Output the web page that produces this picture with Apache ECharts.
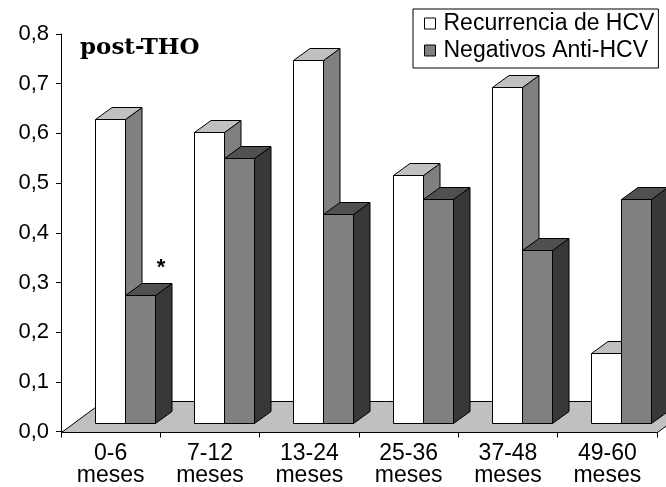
<!DOCTYPE html>
<html>
<head>
<meta charset="utf-8">
<script src="https://cdn.jsdelivr.net/npm/echarts@6/dist/echarts.min.js"></script>
<style>
html,body{margin:0;padding:0;background:#fff;}
#chart{width:666px;height:487px;}
</style>
</head>
<body>
<div id="chart"></div>
<script>
// ---- data ----
const categories = ['0-6\nmeses', '7-12\nmeses', '13-24\nmeses', '25-36\nmeses', '37-48\nmeses', '49-60\nmeses'];
const seriesNames = ['Recurrencia de HCV', 'Negativos Anti-HCV'];
const recurrencia = [0.611, 0.584, 0.730, 0.498, 0.676, 0.140];
const negativos = [0.256, 0.533, 0.420, 0.450, 0.348, 0.450];
const marks = ['*', '', '', '', '', ''];
const yTickLabels = ['0,0', '0,1', '0,2', '0,3', '0,4', '0,5', '0,6', '0,7', '0,8'];
const titleText = 'post-THO';

// ---- style constants ----
const FONT = 'Liberation Sans, Arial, sans-serif';
const SET_X = 12, SET_Y = 9;      // bars set back from front floor edge
const DEP_X = 16.5, DEP_Y = 12;   // bar depth
const FLOOR_X = 42, FLOOR_Y = 31; // floor depth
const faces = [
  { front: '#ffffff', top: '#c0c0c0', side: '#808080' },
  { front: '#808080', top: '#505050', side: '#383838' }
];

function r(v) { return Math.round(v) + 0.5; }

function makeBarRender(k) {
  return function (params, api) {
    const i = api.value(0), v = api.value(1);
    const base = api.coord([i, 0]);
    const topP = api.coord([i, v]);
    const band = api.size([1, 0])[0];
    const barW = band * 0.302;
    const x1 = r(base[0] - band * 0.161 + k * barW);
    const x2 = r(base[0] - band * 0.161 + (k + 1) * barW);
    const yBot = r(base[1] - SET_Y);
    const yTop = r(topP[1] - SET_Y);
    const f = faces[k];
    const st = { stroke: '#000', lineWidth: 1 };
    const children = [
      { type: 'polygon', shape: { points: [[x2, yTop], [x2 + DEP_X, yTop - DEP_Y], [x2 + DEP_X, yBot - DEP_Y], [x2, yBot]] },
        style: Object.assign({ fill: f.side }, st) },
      { type: 'polygon', shape: { points: [[x1, yTop], [x2, yTop], [x2 + DEP_X, yTop - DEP_Y], [x1 + DEP_X, yTop - DEP_Y]] },
        style: Object.assign({ fill: f.top }, st) },
      { type: 'rect', shape: { x: x1, y: yTop, width: x2 - x1, height: yBot - yTop },
        style: Object.assign({ fill: f.front }, st) }
    ];
    const m = api.value(2);
    if (m) {
      children.push({
        type: 'text',
        style: {
          text: String(m), x: (x1 + x2) / 2 + DEP_X + 4, y: yTop - DEP_Y - 16,
          fill: '#000', font: 'bold 22px ' + FONT, align: 'center', verticalAlign: 'middle'
        }
      });
    }
    return { type: 'group', children: children };
  };
}

function floorRender(params, api) {
  const cs = params.coordSys;
  const x0 = cs.x, y0 = cs.y + cs.height, x1 = cs.x + cs.width;
  return {
    type: 'polygon',
    shape: { points: [[r(x0), r(y0)], [r(x1), r(y0)], [r(x1) + FLOOR_X, r(y0) - FLOOR_Y], [r(x0) + FLOOR_X, r(y0) - FLOOR_Y]] },
    style: { fill: '#c0c0c0', stroke: '#000', lineWidth: 1 }
  };
}

const chart = echarts.init(document.getElementById('chart'), null, { renderer: 'canvas' });
chart.setOption({
  animation: false,
  backgroundColor: '#fff',
  title: {
    text: titleText, left: 80, top: 37, padding: 0,
    textStyle: { fontFamily: 'DejaVu Serif, serif', fontWeight: 'bold', fontSize: 23, color: '#000' }
  },
  legend: {
    orient: 'vertical', left: 413, top: 9,
    itemWidth: 11, itemHeight: 11, itemGap: 4,
    padding: [3, 4, 6, 11],
    borderColor: '#000', borderWidth: 1, borderRadius: 0,
    icon: 'rect',
    textStyle: { fontSize: 23, fontFamily: FONT, color: '#000', padding: [0, 0, 0, 3] },
    data: [
      { name: seriesNames[0], itemStyle: { color: faces[0].front, borderColor: '#000', borderWidth: 1 } },
      { name: seriesNames[1], itemStyle: { color: faces[1].front, borderColor: '#000', borderWidth: 1 } }
    ]
  },
  grid: { left: 61, top: 34, width: 596, height: 400, containLabel: false },
  xAxis: {
    type: 'category', data: categories,
    axisLine: { show: true, lineStyle: { color: '#000', width: 1 } },
    axisTick: { show: true, length: 6, alignWithLabel: false, lineStyle: { color: '#000' } },
    axisLabel: { interval: 0, margin: 11, fontSize: 23, lineHeight: 22, fontFamily: FONT, color: '#000' },
    splitLine: { show: false }
  },
  yAxis: {
    type: 'value', min: 0, max: 0.8, interval: 0.1,
    axisLine: { show: true, lineStyle: { color: '#000', width: 1 } },
    axisTick: { show: true, length: 5, lineStyle: { color: '#000' } },
    axisLabel: {
      margin: 12, fontSize: 22, fontFamily: FONT, color: '#000',
      formatter: function (v) { return yTickLabels[Math.round(v * 10)]; }
    },
    splitLine: { show: false }
  },
  series: [
    { type: 'custom', name: '_floor', z: 1, silent: true, renderItem: floorRender, data: [[0, 0]] },
    {
      type: 'custom', name: seriesNames[0], z: 2,
      itemStyle: { color: faces[0].front, borderColor: '#000', borderWidth: 1 },
      renderItem: makeBarRender(0),
      encode: { x: 0, y: 1 },
      data: recurrencia.map(function (v, i) { return [i, v, '']; })
    },
    {
      type: 'custom', name: seriesNames[1], z: 3,
      itemStyle: { color: faces[1].front, borderColor: '#000', borderWidth: 1 },
      renderItem: makeBarRender(1),
      encode: { x: 0, y: 1 },
      data: negativos.map(function (v, i) { return [i, v, marks[i]]; })
    }
  ]
});
</script>
</body>
</html>
